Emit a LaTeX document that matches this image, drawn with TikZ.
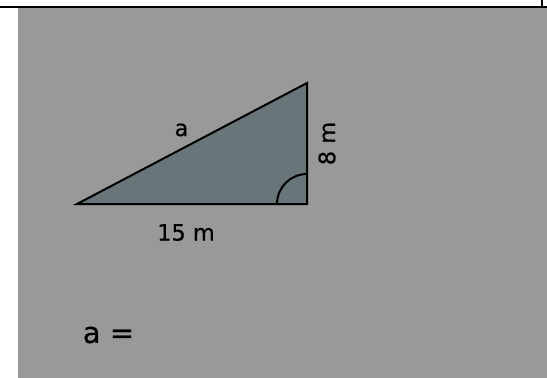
\documentclass[tikz,border=0pt]{standalone}
\usepackage{fontspec}
\setmainfont{DejaVu Sans}
\newfontfamily\labelfont[FakeBold=0.5]{DejaVu Sans}
\usepackage{xcolor}
\usepackage{tikz}
\usetikzlibrary{positioning, calc}
\definecolor{panelgray}{RGB}{153,153,153}
\definecolor{trifill}{RGB}{104,118,121}
\tikzset{
  sidelabel/.style={font=\labelfont\fontsize{22.5}{22.5}\selectfont, inner sep=0pt, text=black},
  answerlabel/.style={font=\labelfont\fontsize{29}{29}\selectfont, inner sep=0pt, text=black},
  edge/.style={line width=2pt, color=black}
}
\begin{document}
\begin{tikzpicture}[x=1pt, y=-1pt]
  \useasboundingbox (0,0) rectangle (547,378);
  % Panel
  \fill[white] (0,0) rectangle (547,378);
  \fill[panelgray] (17.5,7.5) rectangle (547,378);
  \draw[black, line width=1.2pt] (0,7) -- (547,7);
  \draw[black, line width=2pt] (542,0) -- (542,7);

  % Triangle
  \coordinate (A) at (77,204);
  \coordinate (C) at (307,204);
  \coordinate (B) at (307,83);
  \filldraw[edge, fill=trifill] (A) -- (C) -- (B) -- cycle;

  % Right angle mark
  \begin{scope}
    \clip (A) -- (C) -- (B) -- cycle;
    \draw[edge] (C) circle (30pt);
  \end{scope}

  % Side labels
  \node[sidelabel] (hyp) at (181.5,130) {a};
  \node[sidelabel] (base) at (186,232.5) {15 m};
  \node[sidelabel, rotate=90] (leg) at (327,143.5) {8 m};
  \node[answerlabel] (ans) at (108.5,335) {a =};
\end{tikzpicture}
\end{document}
